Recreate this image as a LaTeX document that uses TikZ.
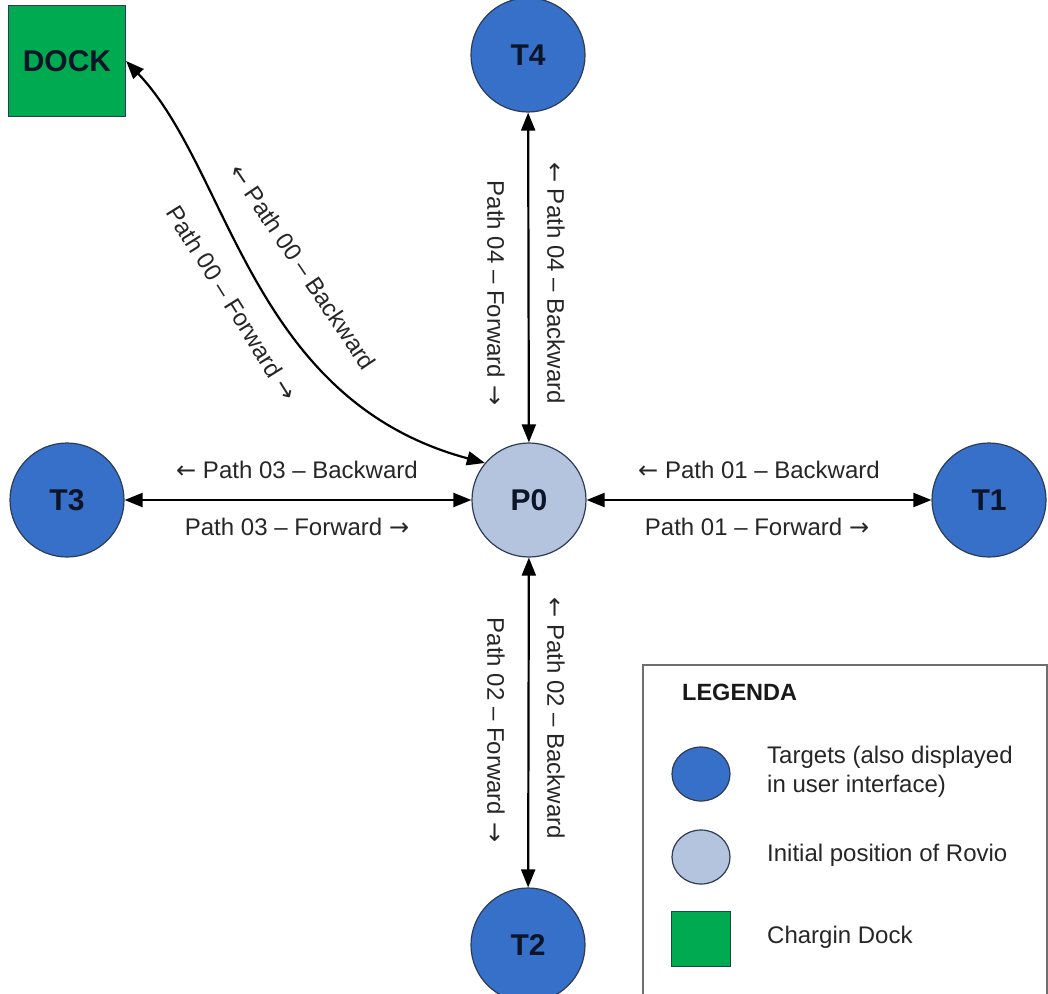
\documentclass[tikz,border=0pt]{standalone}
\usepackage{fontspec}
\setmainfont{Liberation Sans}
\newfontfamily\arrowfont{DejaVu Sans}
\newcommand{\larr}{{\arrowfont ←}}
\newcommand{\rarr}{{\arrowfont →}}
\usetikzlibrary{arrows.meta,shapes.geometric}
\definecolor{targetblue}{RGB}{55,112,200}
\definecolor{startgray}{RGB}{180,196,222}
\definecolor{dockgreen}{RGB}{0,170,80}
\definecolor{rim}{RGB}{45,60,85}
\definecolor{ink}{RGB}{12,20,40}
\definecolor{frame}{RGB}{110,110,110}

\begin{document}
\begin{tikzpicture}[x=1pt,y=-1pt,
  target/.style={circle, draw=rim, line width=1.2pt, fill=targetblue,
    minimum size=114pt, inner sep=0pt, text=ink,
    font=\fontsize{30}{30}\selectfont\bfseries},
  start/.style={target, fill=startgray},
  dockbox/.style={rectangle, draw=rim, line width=1.2pt, fill=dockgreen,
    minimum width=117pt, minimum height=111pt, inner sep=0pt, text=ink,
    font=\fontsize{30}{30}\selectfont\bfseries},
  link/.style={line width=2.2pt,
    {Triangle[length=18pt,width=14pt]}-{Triangle[length=18pt,width=14pt]}},
  pathlabel/.style={font=\fontsize{24}{24}\selectfont, text=black!85, inner sep=0pt},
  legendtext/.style={font=\fontsize{24}{29}\selectfont, text=black!85,
    inner sep=0pt, anchor=west, align=left},
  legcircle/.style={ellipse, draw=rim, line width=1.2pt, minimum width=58pt,
    minimum height=54pt, inner sep=0pt},
]
\useasboundingbox (0,0) rectangle (1048,993);

% nodes
\node[dockbox] (dock) at (67,61) {DOCK};
\node[target] (t4) at (528,55) {T4};
\node[target] (t3) at (67,500) {T3};
\node[start]  (p0) at (529,500) {P0};
\node[target] (t1) at (989,500) {T1};
\node[target] (t2) at (528,945) {T2};

% connectors
\draw[link] (t3) -- (p0);
\draw[link] (p0) -- (t1);
\draw[link] (p0) -- (t4);
\draw[link] (p0) -- (t2);
\draw[link] (dock.east) .. controls (230,170) and (250,400) .. (p0.140);

% path labels
\node[pathlabel] (l3b) at (297,470) {\larr\ Path 03 – Backward};
\node[pathlabel] (l3f) at (297,527) {Path 03 – Forward \rarr};
\node[pathlabel] (l1b) at (759,470) {\larr\ Path 01 – Backward};
\node[pathlabel] (l1f) at (757,527) {Path 01 – Forward \rarr};
\node[pathlabel, rotate=-90] (l4f) at (496,293) {Path 04 – Forward \rarr};
\node[pathlabel, rotate=-90] (l4b) at (556,283) {\larr\ Path 04 – Backward};
\node[pathlabel, rotate=-90] (l2f) at (496,730) {Path 02 – Forward \rarr};
\node[pathlabel, rotate=-90] (l2b) at (556,718) {\larr\ Path 02 – Backward};
\node[pathlabel, rotate=-56] (l0b) at (303,267) {\larr\ Path 00 – Backward};
\node[pathlabel, rotate=-58] (l0f) at (232,303) {Path 00 – Forward \rarr};

% legend
\draw[frame, line width=1.5pt] (643,665) rectangle (1047,1010);
\node[font=\fontsize{23.5}{23.5}\selectfont\bfseries, text=black!90, anchor=west, inner sep=0pt]
  (legtitle) at (682,692) {LEGENDA};
\node[legcircle, fill=targetblue] (legt) at (701,774) {};
\node[legcircle, fill=startgray] (legp) at (701,857) {};
\node[rectangle, draw=rim, line width=1.2pt, fill=dockgreen, minimum width=59pt,
  minimum height=55pt, inner sep=0pt] (legd) at (701,939) {};
\node[legendtext] (legtt) at (767,772) {Targets (also displayed\\in user interface)};
\node[legendtext] (legpt) at (767,855) {Initial position of Rovio};
\node[legendtext] (legdt) at (767,937) {Chargin Dock};
\end{tikzpicture}
\end{document}
